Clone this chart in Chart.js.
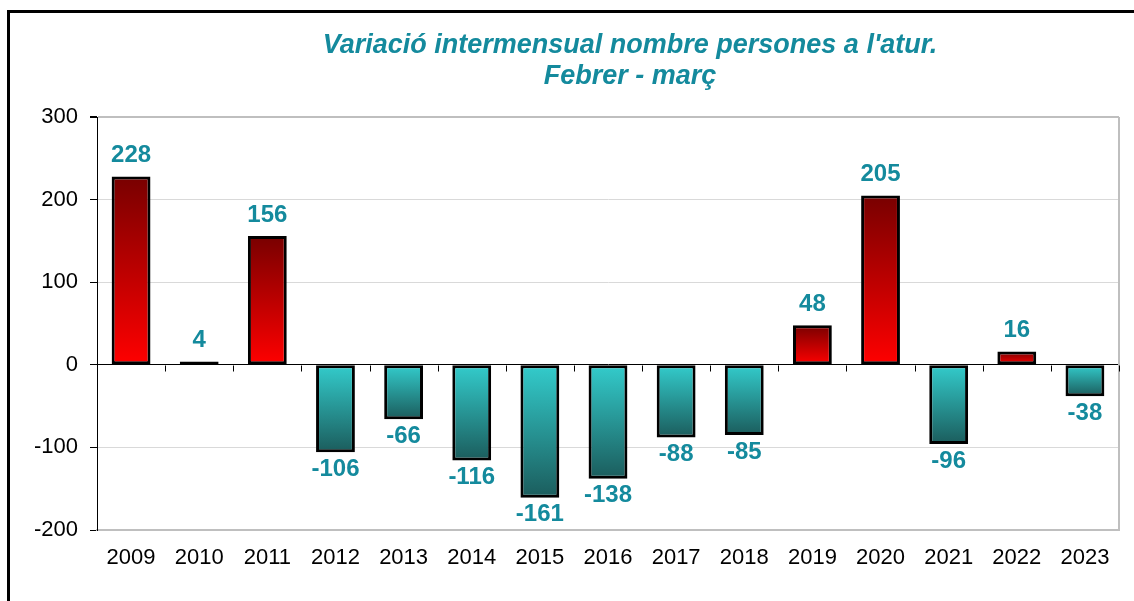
<!DOCTYPE html>
<html>
<head>
<meta charset="utf-8">
<script src="https://cdn.jsdelivr.net/npm/chart.js@4.4.0/dist/chart.umd.min.js"></script>
<style>
	html, body { margin: 0; padding: 0; background: #fff; overflow: hidden; }
	#wrap { position: relative; width: 1134px; height: 601px; overflow: hidden; }
	#frame { position: absolute; left: 7px; top: 10px; width: 1200px; height: 700px;
		border-left: 3px solid #000; border-top: 3px solid #000; }
	#myChart { position: absolute; left: 0; top: 0; }
</style>
</head>
<body>
<div id="wrap">
	<div id="frame"></div>
	<canvas id="myChart" width="1134" height="601"></canvas>
</div>
<script>
'use strict';

// dades: variació febrer - març
let years = ['2009', '2010', '2011', '2012', '2013', '2014', '2015', '2016',
	'2017', '2018', '2019', '2020', '2021', '2022', '2023'];
let variacio = [228, 4, 156, -106, -66, -116, -161, -138, -88, -85, 48, 205, -96, 16, -38];
let yTicks = [-200, -100, 0, 100, 200, 300];
let titleLines = ["Variació intermensual nombre persones a l'atur.", 'Febrer - març'];

const TEAL = '#148a9d';
const FONT = "'Liberation Sans', Arial, sans-serif";

function barFill(context) {
	let chart = context.chart;
	let yScale = chart.scales.y;
	let v = variacio[context.dataIndex];
	if (!yScale || !chart.chartArea) {
		return v >= 0 ? '#c00000' : '#2a9a9a';
	}
	let top = yScale.getPixelForValue(Math.max(v, 0));
	let bot = yScale.getPixelForValue(Math.min(v, 0));
	if (bot - top < 1) bot = top + 1;
	let g = chart.ctx.createLinearGradient(0, top, 0, bot);
	if (v >= 0) {
		g.addColorStop(0, '#780000');
		g.addColorStop(1, '#ff0000');
	} else {
		g.addColorStop(0, '#33cccc');
		g.addColorStop(1, '#1b5c5c');
	}
	return g;
}

// títol, etiquetes i marques de l'eix zero
let extras = {
	id: 'extras',
	afterDraw(chart) {
		let ctx = chart.ctx;
		let area = chart.chartArea;
		let x = chart.scales.x;
		let y = chart.scales.y;
		ctx.save();

		// vora dreta de l'àrea de traçat
		ctx.strokeStyle = '#bfbfbf';
		ctx.lineWidth = 2;
		ctx.beginPath();
		ctx.moveTo(area.right, area.top);
		ctx.lineTo(area.right, area.bottom);
		ctx.stroke();

		// marques a la línia zero
		let y0 = Math.round(y.getPixelForValue(0)) + 0.5;
		let w = (x.right - x.left) / years.length;
		ctx.strokeStyle = '#000';
		ctx.lineWidth = 1;
		ctx.beginPath();
		for (let k = 1; k <= years.length; k++) {
			let xx = Math.round(x.left + k * w) + 0.5;
			ctx.moveTo(xx, y0);
			ctx.lineTo(xx, y0 + 6);
		}
		ctx.stroke();

		// etiquetes de dades
		ctx.fillStyle = TEAL;
		ctx.font = 'bold 24px ' + FONT;
		ctx.textAlign = 'center';
		ctx.textBaseline = 'middle';
		chart.getDatasetMeta(0).data.forEach(function (bar, i) {
			let v = variacio[i];
			let ly = v >= 0 ? bar.y - 21 : bar.y + 17;
			ctx.fillText(String(v), bar.x, ly);
		});

		// títol
		ctx.font = 'italic bold 27px ' + FONT;
		ctx.fillText(titleLines[0], 630, 46);
		ctx.fillText(titleLines[1], 630, 77);
		ctx.restore();
	}
};

let ctx = document.getElementById('myChart').getContext('2d');
let myChart = new Chart(ctx, {
	type   : 'bar',
	data   : {
		labels  : years,
		datasets: [
			{
				data              : variacio,
				backgroundColor   : barFill,
				borderColor       : '#000',
				borderWidth       : 3,
				borderSkipped     : false,
				categoryPercentage: 1,
				barPercentage     : 0.57
			}
		]
	},
	options: {
		responsive: false,
		animation : false,
		layout    : { padding: { top: 117, right: 15, left: 0, bottom: 0 } },
		plugins   : {
			legend : { display: false },
			tooltip: { enabled: false }
		},
		scales    : {
			x: {
				grid  : { display: false, drawTicks: false },
				border: { display: true, color: '#bfbfbf', width: 2 },
				ticks : { color: '#000', font: { size: 22, family: FONT }, padding: 15, maxRotation: 0 },
				afterFit: function (s) { s.height = 71; }
			},
			y: {
				min   : yTicks[0],
				max   : yTicks[yTicks.length - 1],
				afterBuildTicks: function (s) { s.ticks = yTicks.map(v => ({ value: v })); },
				grid  : {
					color     : c => (c.tick && c.tick.value === 0) ? '#000' :
						(c.tick && c.tick.value === yTicks[yTicks.length - 1]) ? '#bfbfbf' : '#d9d9d9',
					lineWidth : c => (c.tick && c.tick.value === yTicks[yTicks.length - 1]) ? 2 : 1,
					tickColor : '#000',
					tickLength: 7
				},
				border: { display: true, color: '#000', width: 1 },
				ticks : { color: '#000', font: { size: 22, family: FONT }, padding: 12 },
				afterFit: function (s) { s.width = 97; }
			}
		}
	},
	plugins: [extras]
});
</script>
</body>
</html>
